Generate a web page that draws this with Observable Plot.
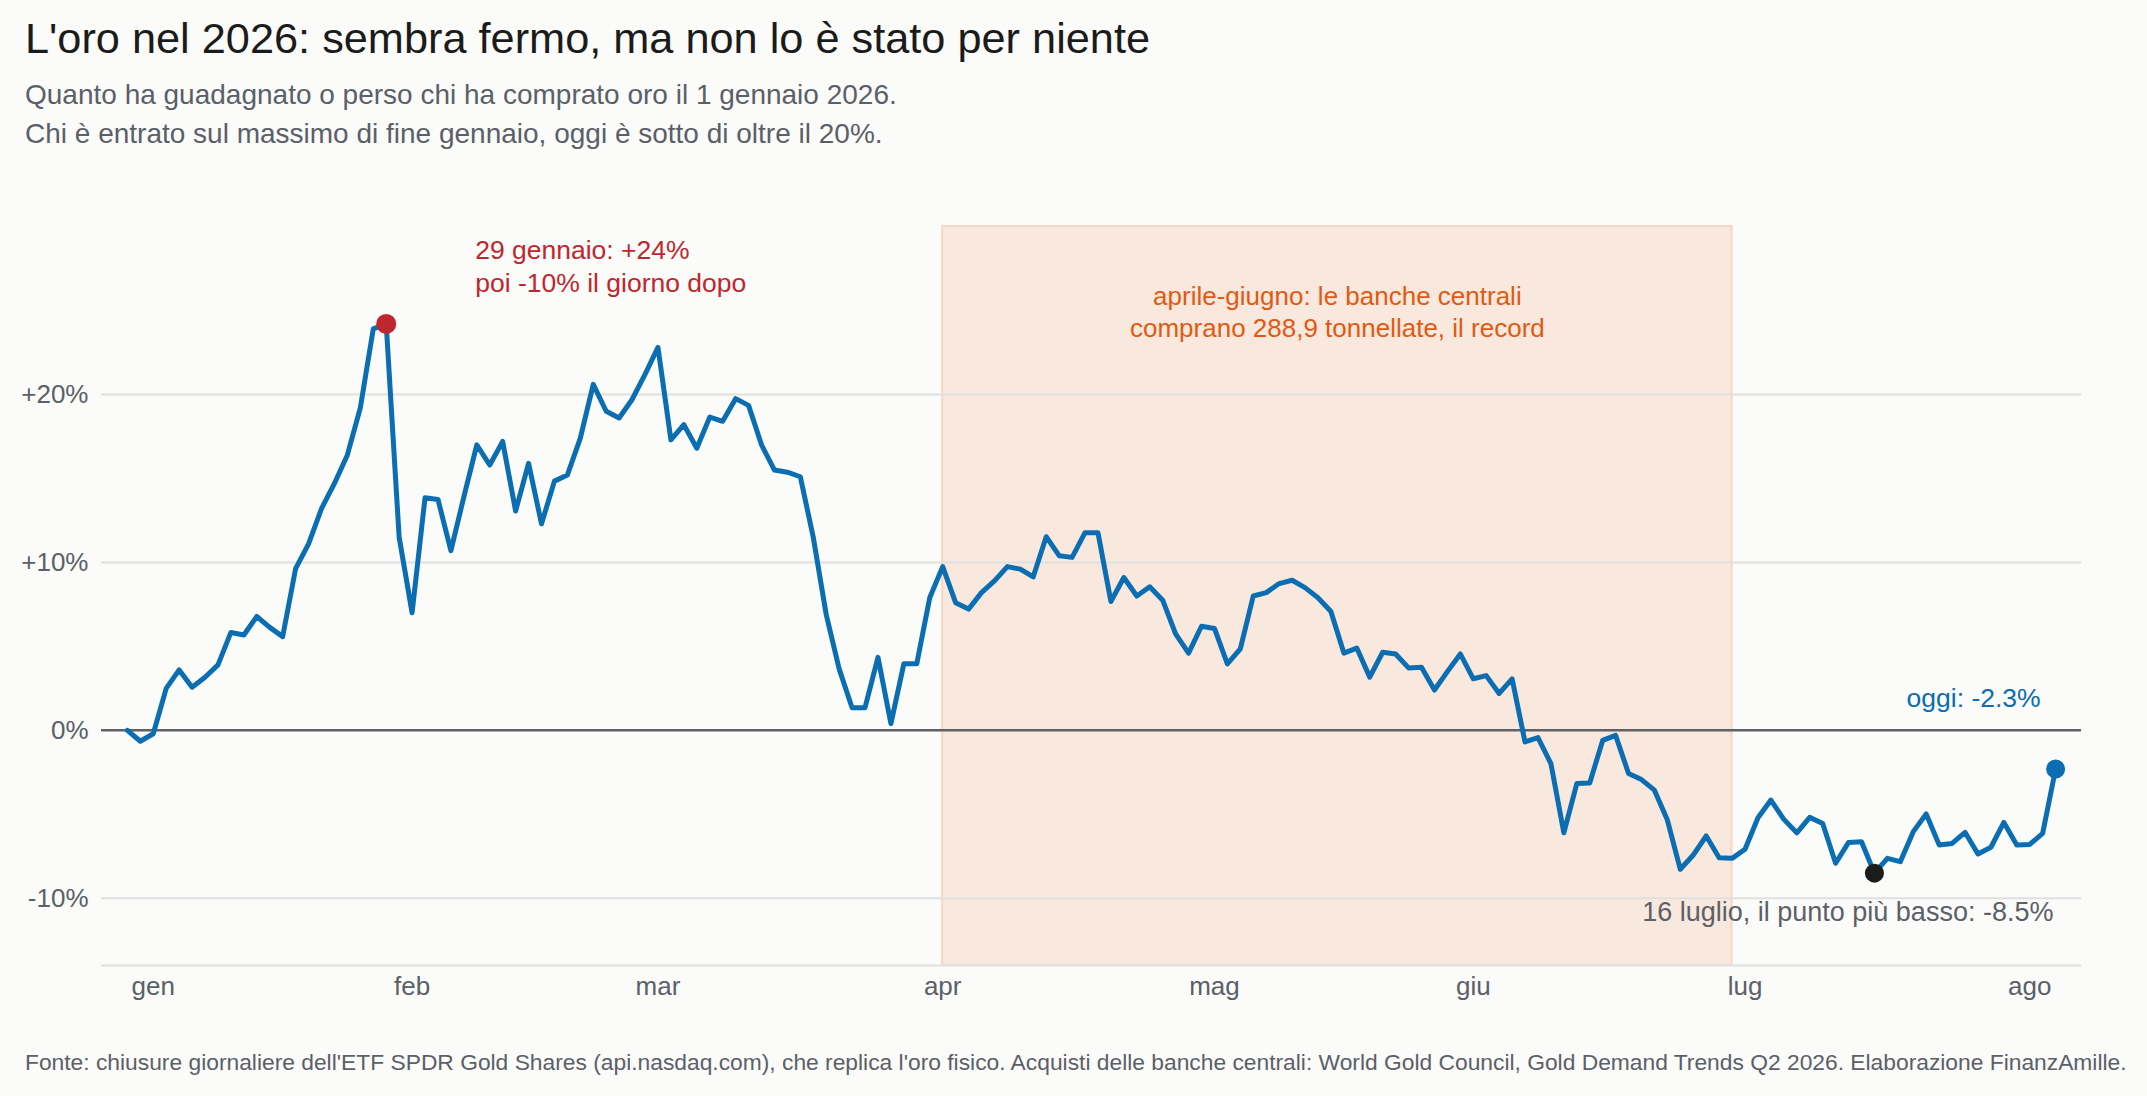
<!DOCTYPE html>
<html>
<head>
<meta charset="utf-8">
<script src="https://cdn.jsdelivr.net/npm/d3@7"></script>
<script src="https://cdn.jsdelivr.net/npm/@observablehq/plot@0.6"></script>
<style>
html,body{margin:0;padding:0;background:#fbfbf9;}
body{width:2147px;height:1096px;position:relative;overflow:hidden;font-family:"Liberation Sans",Arial,Helvetica,sans-serif;}
#title{position:absolute;left:25px;top:17px;font-size:43.3px;line-height:43px;color:#1b1b1b;white-space:nowrap;}
#subtitle{position:absolute;left:25px;top:75px;font-size:28px;line-height:39px;color:#5b6068;white-space:nowrap;}
#chart{position:absolute;left:0;top:160px;}
#footer{position:absolute;left:25px;top:1048px;font-size:22.8px;line-height:28px;color:#5b6068;white-space:nowrap;}
</style>
</head>
<body>
<div id="title"></div>
<div id="subtitle"></div>
<div id="chart"></div>
<div id="footer"></div>
<script>
// ---- Data ----
const titleText = "L'oro nel 2026: sembra fermo, ma non lo è stato per niente";
const subtitleLines = [
  "Quanto ha guadagnato o perso chi ha comprato oro il 1 gennaio 2026.",
  "Chi è entrato sul massimo di fine gennaio, oggi è sotto di oltre il 20%."
];
const footerText = "Fonte: chiusure giornaliere dell'ETF SPDR Gold Shares (api.nasdaq.com), che replica l'oro fisico. Acquisti delle banche centrali: World Gold Council, Gold Demand Trends Q2 2026. Elaborazione FinanzAmille.";

// first trading session of the series and market holidays (NYSE, 2026)
const startDate = "2025-12-30";
const holidays = ["2026-01-01", "2026-01-19", "2026-02-16", "2026-04-03", "2026-05-25", "2026-06-19", "2026-07-03"];

// % change vs. the 2025 close, one value per trading session
const values = [
  0.0, -0.65, -0.2, 2.5, 3.6, 2.57, 3.16, 3.9, 5.83, 5.68,
  6.78, 6.13, 5.58, 9.63, 11.1, 13.2, 14.7, 16.4, 19.2, 23.9,
  24.2, 11.5, 7.0, 13.85, 13.75, 10.7, 13.9, 17.0, 15.8, 17.2,
  13.06, 15.9, 12.3, 14.84, 15.2, 17.4, 20.6, 19.0, 18.6, 19.7,
  21.2, 22.8, 17.3, 18.2, 16.8, 18.65, 18.4, 19.75, 19.35, 17.0,
  15.5, 15.37, 15.1, 11.5, 6.9, 3.66, 1.35, 1.35, 4.35, 0.4,
  3.96, 3.96, 7.9, 9.75, 7.6, 7.22, 8.2, 8.9, 9.75, 9.6,
  9.14, 11.53, 10.4, 10.3, 11.77, 11.77, 7.67, 9.1, 8.0, 8.55,
  7.75, 5.74, 4.6, 6.2, 6.07, 3.96, 4.85, 8.0, 8.2, 8.74,
  8.94, 8.5, 7.9, 7.08, 4.6, 4.9, 3.17, 4.65, 4.55, 3.72,
  3.76, 2.4, 3.5, 4.55, 3.07, 3.26, 2.2, 3.07, -0.69, -0.43,
  -1.98, -6.1, -3.17, -3.13, -0.6, -0.3, -2.57, -2.93, -3.56, -5.34,
  -8.27, -7.42, -6.29, -7.58, -7.62, -7.08, -5.2, -4.15, -5.3, -6.1,
  -5.18, -5.54, -7.91, -6.67, -6.63, -8.5, -7.62, -7.82, -6.03, -4.98,
  -6.82, -6.73, -6.07, -7.36, -6.96, -5.48, -6.82, -6.79, -6.13, -2.3
];

const monthLabels = ["gen", "feb", "mar", "apr", "mag", "giu", "lug", "ago", "set", "ott", "nov", "dic"];
const yTicks = [-10, 0, 10, 20];
const yDomain = [-14, 30];

const quarter = {from: "2026-04-01", to: "2026-06-30",
  label: "aprile-giugno: le banche centrali\ncomprano 288,9 tonnellate, il record"};
const peakNote = "29 gennaio: +24%\npoi -10% il giorno dopo";
const lowNote = "16 luglio, il punto più basso: -8.5%";
const todayNote = "oggi: -2.3%";

// ---- Build trading-day calendar ----
const fmt = d3.utcFormat("%Y-%m-%d");
const dates = [];
{
  let d = new Date(startDate + "T00:00:00Z");
  while (dates.length < values.length) {
    const wd = d.getUTCDay();
    if (wd !== 0 && wd !== 6 && !holidays.includes(fmt(d))) dates.push(new Date(d));
    d = d3.utcDay.offset(d, 1);
  }
}
const data = values.map((v, i) => ({i, date: dates[i], v}));
const monthTicks = data.filter((d, i) => i > 0 && d.date.getUTCMonth() !== dates[i - 1].getUTCMonth()).map(d => d.i);
const qFrom = data.find(d => fmt(d.date) >= quarter.from).i;
const qTo = data.filter(d => fmt(d.date) <= quarter.to).pop().i;
const quarterRow = {x1: qFrom, x2: qTo, label: quarter.label};

const peak = data.reduce((a, b) => (b.v > a.v ? b : a));
const low = data.reduce((a, b) => (b.v < a.v ? b : a));
const last = data[data.length - 1];

// ---- Text ----
document.getElementById("title").textContent = titleText;
document.getElementById("subtitle").innerHTML = subtitleLines.map(s => `<div>${s}</div>`).join("");
document.getElementById("footer").textContent = footerText;

// ---- Chart ----
const blue = "#0b6db2", red = "#c0262d", orange = "#e25a12", grey = "#5b6068";
const fontFamily = "'Liberation Sans', Arial, Helvetica, sans-serif";

const chart = Plot.plot({
  width: 2147,
  height: 855,
  marginTop: 66,
  marginBottom: 50,
  marginLeft: 101,
  marginRight: 66,
  style: {background: "transparent", fontFamily, fontSize: "26px", color: grey, overflow: "visible"},
  x: {domain: [-2, values.length + 1]},
  y: {domain: yDomain},
  marks: [
    Plot.rect([quarterRow], {x1: "x1", x2: "x2", y1: yDomain[0], y2: yDomain[1],
      fill: "#f9e8de", stroke: "#f6d6c6", strokeWidth: 2}),
    Plot.ruleY(yTicks.filter(d => d !== 0), {stroke: "#e0e0e0", strokeWidth: 2}),
    Plot.ruleY([yDomain[0]], {stroke: "#e0e0e0", strokeWidth: 2}),
    Plot.ruleY([0], {stroke: "#5f6266", strokeWidth: 2.5}),
    Plot.axisY(yTicks, {tickSize: 0, tickPadding: 13, label: null, fontSize: 26, fill: grey,
      tickFormat: d => (d > 0 ? "+" : "") + d + "%"}),
    Plot.axisX(monthTicks, {tickSize: 0, tickPadding: 11, label: null, fontSize: 26, fill: grey,
      tickFormat: i => monthLabels[dates[i].getUTCMonth()]}),
    Plot.lineY(data, {x: "i", y: "v", stroke: blue, strokeWidth: 5, strokeLinejoin: "round", strokeLinecap: "round"}),
    Plot.dot([peak], {x: "i", y: "v", r: 10, fill: red}),
    Plot.dot([low], {x: "i", y: "v", r: 9.5, fill: "#1c1c1c"}),
    Plot.dot([last], {x: "i", y: "v", r: 9.5, fill: blue}),
    Plot.text([peak], {x: "i", y: "v", text: () => peakNote, textAnchor: "start", lineAnchor: "middle",
      lineHeight: 1.25, dx: 89, dy: -59, fill: red, fontSize: 26.5}),
    Plot.text([quarterRow], {x: d => (d.x1 + d.x2) / 2, frameAnchor: "top", text: "label",
      lineAnchor: "middle", lineHeight: 1.23, dy: 84, fill: orange, fontSize: 26}),
    Plot.text([last], {x: "i", y: "v", text: () => todayNote, textAnchor: "end", dx: -15, dy: -70,
      fill: blue, fontSize: 26.5}),
    Plot.text([low], {x: "i", y: "v", text: () => lowNote, textAnchor: "end", dx: 179, dy: 39,
      fill: grey, fontSize: 27})
  ]
});
document.getElementById("chart").appendChild(chart);
</script>
</body>
</html>
